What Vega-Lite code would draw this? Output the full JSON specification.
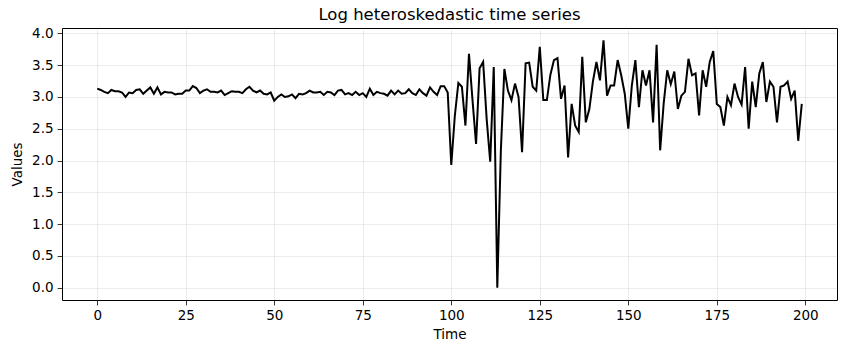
{
  "$schema": "https://vega.github.io/schema/vega-lite/v6.json",
  "width": 775,
  "height": 272,
  "autosize": {"type": "none"},
  "padding": {"left": 62, "top": 28, "right": 9, "bottom": 53},
  "background": "white",
  "title": {"text": "Log heteroskedastic time series", "font": "DejaVu Sans", "fontSize": 16.5, "fontWeight": "normal", "color": "black", "anchor": "middle", "offset": 3},
  "config": {
    "view": {"stroke": "black", "strokeWidth": 1},
    "axis": {
      "domain": false,
      "grid": true,
      "gridColor": "#b0b0b0",
      "gridOpacity": 0.3,
      "gridWidth": 0.8,
      "tickColor": "black",
      "tickSize": 4.9,
      "tickWidth": 0.8,
      "labelFont": "DejaVu Sans",
      "labelFontSize": 13.5,
      "labelColor": "black",
      "labelPadding": 4,
      "titleFont": "DejaVu Sans",
      "titleFontSize": 13.5,
      "titleFontWeight": "normal",
      "titleColor": "black"
    }
  },
  "data": {"values": [
    {"t":0,"v":3.13},{"t":1,"v":3.11},{"t":2,"v":3.08},{"t":3,"v":3.06},{"t":4,"v":3.11},{"t":5,"v":3.09},{"t":6,"v":3.09},{"t":7,"v":3.07},{"t":8,"v":3.00},{"t":9,"v":3.07},
    {"t":10,"v":3.06},{"t":11,"v":3.11},{"t":12,"v":3.12},{"t":13,"v":3.05},{"t":14,"v":3.10},{"t":15,"v":3.15},{"t":16,"v":3.05},{"t":17,"v":3.15},{"t":18,"v":3.04},{"t":19,"v":3.08},
    {"t":20,"v":3.07},{"t":21,"v":3.07},{"t":22,"v":3.04},{"t":23,"v":3.05},{"t":24,"v":3.05},{"t":25,"v":3.10},{"t":26,"v":3.10},{"t":27,"v":3.17},{"t":28,"v":3.14},{"t":29,"v":3.06},
    {"t":30,"v":3.10},{"t":31,"v":3.12},{"t":32,"v":3.08},{"t":33,"v":3.08},{"t":34,"v":3.07},{"t":35,"v":3.10},{"t":36,"v":3.03},{"t":37,"v":3.06},{"t":38,"v":3.09},{"t":39,"v":3.08},
    {"t":40,"v":3.08},{"t":41,"v":3.06},{"t":42,"v":3.12},{"t":43,"v":3.16},{"t":44,"v":3.10},{"t":45,"v":3.07},{"t":46,"v":3.10},{"t":47,"v":3.05},{"t":48,"v":3.04},{"t":49,"v":3.07},
    {"t":50,"v":2.94},{"t":51,"v":3.00},{"t":52,"v":3.04},{"t":53,"v":3.00},{"t":54,"v":3.01},{"t":55,"v":3.04},{"t":56,"v":2.98},{"t":57,"v":3.05},{"t":58,"v":3.04},{"t":59,"v":3.06},
    {"t":60,"v":3.10},{"t":61,"v":3.07},{"t":62,"v":3.07},{"t":63,"v":3.08},{"t":64,"v":3.03},{"t":65,"v":3.08},{"t":66,"v":3.07},{"t":67,"v":3.03},{"t":68,"v":3.10},{"t":69,"v":3.11},
    {"t":70,"v":3.04},{"t":71,"v":3.06},{"t":72,"v":3.03},{"t":73,"v":3.08},{"t":74,"v":3.03},{"t":75,"v":3.06},{"t":76,"v":3.00},{"t":77,"v":3.13},{"t":78,"v":3.03},{"t":79,"v":3.08},
    {"t":80,"v":3.06},{"t":81,"v":3.05},{"t":82,"v":3.02},{"t":83,"v":3.10},{"t":84,"v":3.04},{"t":85,"v":3.10},{"t":86,"v":3.05},{"t":87,"v":3.06},{"t":88,"v":3.12},{"t":89,"v":3.06},
    {"t":90,"v":3.03},{"t":91,"v":3.12},{"t":92,"v":3.06},{"t":93,"v":3.02},{"t":94,"v":3.15},{"t":95,"v":3.08},{"t":96,"v":3.03},{"t":97,"v":3.17},{"t":98,"v":3.17},{"t":99,"v":3.07},
    {"t":100,"v":1.93},{"t":101,"v":2.70},{"t":102,"v":3.22},{"t":103,"v":3.16},{"t":104,"v":2.55},{"t":105,"v":3.68},{"t":106,"v":2.95},{"t":107,"v":2.26},{"t":108,"v":3.45},{"t":109,"v":3.55},
    {"t":110,"v":2.65},{"t":111,"v":1.98},{"t":112,"v":3.47},{"t":113,"v":0.0},{"t":114,"v":2.15},{"t":115,"v":3.44},{"t":116,"v":3.10},{"t":117,"v":2.95},{"t":118,"v":3.21},{"t":119,"v":3.00},
    {"t":120,"v":2.13},{"t":121,"v":3.53},{"t":122,"v":3.54},{"t":123,"v":3.16},{"t":124,"v":3.10},{"t":125,"v":3.79},{"t":126,"v":2.95},{"t":127,"v":2.95},{"t":128,"v":3.35},{"t":129,"v":3.58},
    {"t":130,"v":3.61},{"t":131,"v":2.97},{"t":132,"v":3.18},{"t":133,"v":2.05},{"t":134,"v":2.89},{"t":135,"v":2.55},{"t":136,"v":2.45},{"t":137,"v":3.63},{"t":138,"v":2.60},{"t":139,"v":2.81},
    {"t":140,"v":3.24},{"t":141,"v":3.55},{"t":142,"v":3.26},{"t":143,"v":3.89},{"t":144,"v":3.02},{"t":145,"v":3.18},{"t":146,"v":3.18},{"t":147,"v":3.58},{"t":148,"v":3.34},{"t":149,"v":3.05},
    {"t":150,"v":2.50},{"t":151,"v":3.18},{"t":152,"v":3.58},{"t":153,"v":2.84},{"t":154,"v":3.42},{"t":155,"v":3.18},{"t":156,"v":3.42},{"t":157,"v":2.60},{"t":158,"v":3.82},{"t":159,"v":2.16},
    {"t":160,"v":2.90},{"t":161,"v":3.42},{"t":162,"v":3.20},{"t":163,"v":3.40},{"t":164,"v":2.81},{"t":165,"v":3.02},{"t":166,"v":3.08},{"t":167,"v":3.60},{"t":168,"v":3.34},{"t":169,"v":3.37},
    {"t":170,"v":2.71},{"t":171,"v":3.42},{"t":172,"v":3.16},{"t":173,"v":3.55},{"t":174,"v":3.72},{"t":175,"v":2.89},{"t":176,"v":2.84},{"t":177,"v":2.55},{"t":178,"v":3.00},{"t":179,"v":2.87},
    {"t":180,"v":3.21},{"t":181,"v":3.00},{"t":182,"v":2.88},{"t":183,"v":3.47},{"t":184,"v":2.50},{"t":185,"v":3.24},{"t":186,"v":2.84},{"t":187,"v":3.37},{"t":188,"v":3.55},{"t":189,"v":2.92},
    {"t":190,"v":3.24},{"t":191,"v":3.16},{"t":192,"v":2.60},{"t":193,"v":3.16},{"t":194,"v":3.18},{"t":195,"v":3.24},{"t":196,"v":2.97},{"t":197,"v":3.10},{"t":198,"v":2.31},{"t":199,"v":2.89}
  ]},
  "mark": {"type": "line", "color": "black", "strokeWidth": 2, "clip": true},
  "encoding": {
    "x": {"field": "t", "type": "quantitative", "scale": {"domain": [-9.95, 208.95], "nice": false, "zero": false},
          "axis": {"values": [0, 25, 50, 75, 100, 125, 150, 175, 200], "title": "Time", "titlePadding": 5, "format": "d"}},
    "y": {"field": "v", "type": "quantitative", "scale": {"domain": [-0.1945, 4.0845], "nice": false, "zero": false},
          "axis": {"values": [0, 0.5, 1, 1.5, 2, 2.5, 3, 3.5, 4], "title": "Values", "titlePadding": 7, "format": ".1f"}}
  }
}
